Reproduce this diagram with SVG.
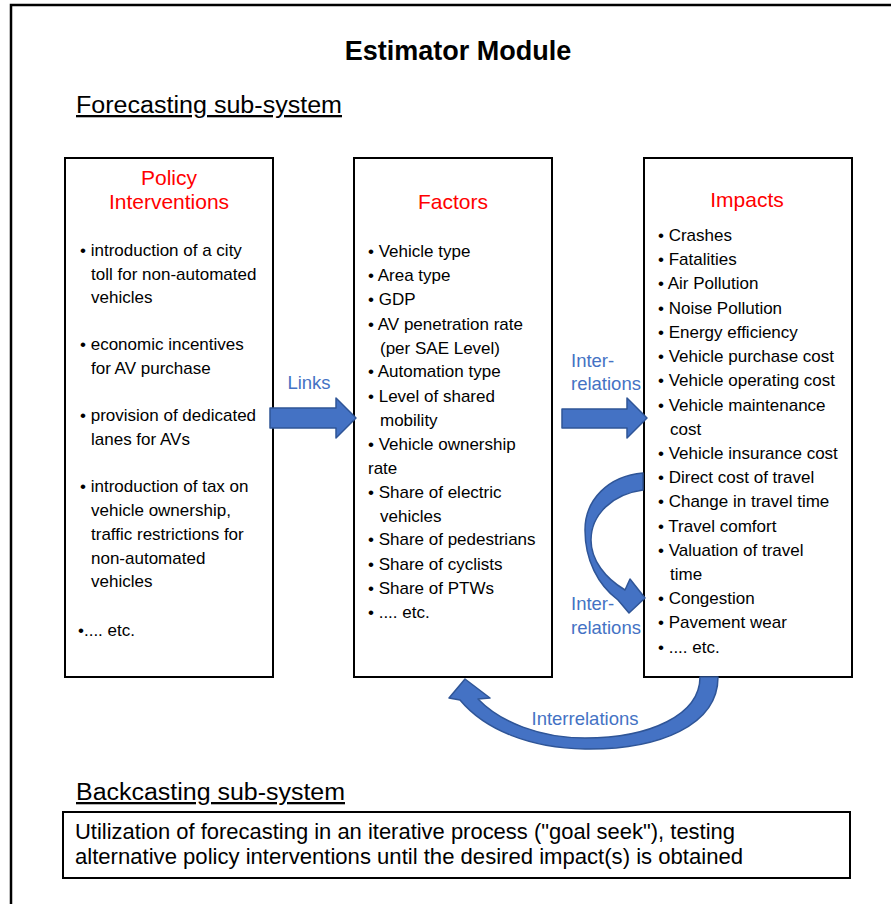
<svg xmlns="http://www.w3.org/2000/svg" width="891" height="904" viewBox="0 0 891 904">
<style>
.box{fill:#fff;stroke:#000;stroke-width:2}
.t{font-family:"Liberation Sans",Arial,sans-serif;font-size:17px;fill:#000}
.h{font-family:"Liberation Sans",Arial,sans-serif;font-size:21px;fill:#ff0000;text-anchor:middle}
.lbl{font-family:"Liberation Sans",Arial,sans-serif;font-size:18.5px;fill:#4472C4}
.arrow{fill:#4472C4;stroke:#2F5597;stroke-width:1.5;stroke-linejoin:round}
</style>
<rect x="0" y="0" width="891" height="904" fill="#fff"/>
<rect x="11" y="5" width="890" height="910" fill="none" stroke="#000" stroke-width="2.5"/>
<text x="458" y="60" font-family="Liberation Sans,Arial,sans-serif" font-size="27" font-weight="bold" text-anchor="middle">Estimator Module</text>
<text x="76" y="113" font-family="Liberation Sans,Arial,sans-serif" font-size="23" text-decoration="underline" textLength="266" lengthAdjust="spacingAndGlyphs">Forecasting sub-system</text>

<g id="policy">
<rect class="box" x="65" y="158" width="208" height="519"/>
<text class="h" x="169" y="185">Policy</text>
<text class="h" x="169" y="209">Interventions</text>
<text class="t" x="80" y="256">• introduction of a city</text>
<text class="t" x="91" y="280">toll for non-automated</text>
<text class="t" x="91" y="303">vehicles</text>
<text class="t" x="80" y="350">• economic incentives</text>
<text class="t" x="91" y="374">for AV purchase</text>
<text class="t" x="80" y="421">• provision of dedicated</text>
<text class="t" x="91" y="445">lanes for AVs</text>
<text class="t" x="80" y="492">• introduction of tax on</text>
<text class="t" x="91" y="516">vehicle ownership,</text>
<text class="t" x="91" y="540">traffic restrictions for</text>
<text class="t" x="91" y="564">non-automated</text>
<text class="t" x="91" y="587">vehicles</text>
<text class="t" x="78" y="636">•.... etc.</text>
</g>

<g id="factors">
<rect class="box" x="354" y="158" width="198" height="519"/>
<text class="h" x="453" y="209">Factors</text>
<text class="t" x="368" y="257">• Vehicle type</text>
<text class="t" x="368" y="281">• Area type</text>
<text class="t" x="368" y="305">• GDP</text>
<text class="t" x="368" y="330">• AV penetration rate</text>
<text class="t" x="380" y="354">(per SAE Level)</text>
<text class="t" x="368" y="377">• Automation type</text>
<text class="t" x="368" y="402">• Level of shared</text>
<text class="t" x="380" y="426">mobility</text>
<text class="t" x="368" y="450">• Vehicle ownership</text>
<text class="t" x="368" y="474">rate</text>
<text class="t" x="368" y="498">• Share of electric</text>
<text class="t" x="380" y="522">vehicles</text>
<text class="t" x="368" y="545">• Share of pedestrians</text>
<text class="t" x="368" y="570">• Share of cyclists</text>
<text class="t" x="368" y="594">• Share of PTWs</text>
<text class="t" x="368" y="618">• .... etc.</text>
</g>

<g id="impacts">
<rect class="box" x="644" y="158" width="208" height="519"/>
<text class="h" x="747" y="207">Impacts</text>
<text class="t" x="658" y="241">• Crashes</text>
<text class="t" x="658" y="265">• Fatalities</text>
<text class="t" x="658" y="289">• Air Pollution</text>
<text class="t" x="658" y="314">• Noise Pollution</text>
<text class="t" x="658" y="338">• Energy efficiency</text>
<text class="t" x="658" y="362">• Vehicle purchase cost</text>
<text class="t" x="658" y="386">• Vehicle operating cost</text>
<text class="t" x="658" y="411">• Vehicle maintenance</text>
<text class="t" x="670" y="435">cost</text>
<text class="t" x="658" y="459">• Vehicle insurance cost</text>
<text class="t" x="658" y="483">• Direct cost of travel</text>
<text class="t" x="658" y="507">• Change in travel time</text>
<text class="t" x="658" y="532">• Travel comfort</text>
<text class="t" x="658" y="556">• Valuation of travel</text>
<text class="t" x="670" y="580">time</text>
<text class="t" x="658" y="604">• Congestion</text>
<text class="t" x="658" y="628">• Pavement wear</text>
<text class="t" x="658" y="653">• .... etc.</text>
</g>

<g id="backcasting">
<text x="76" y="800" font-family="Liberation Sans,Arial,sans-serif" font-size="23" text-decoration="underline" textLength="269" lengthAdjust="spacingAndGlyphs">Backcasting sub-system</text>
<rect class="box" x="63" y="812" width="787" height="66"/>
<text x="75" y="839" font-family="Liberation Sans,Arial,sans-serif" font-size="21.5" textLength="660" lengthAdjust="spacingAndGlyphs">Utilization of forecasting in an iterative process ("goal seek"), testing</text>
<text x="75" y="864" font-family="Liberation Sans,Arial,sans-serif" font-size="21.5" textLength="668" lengthAdjust="spacingAndGlyphs">alternative policy interventions  until the desired impact(s) is obtained</text>
</g>

<g id="connectors">
<path class="arrow" d="M270,408 L336,408 L336,398 L356,418 L336,438 L336,428 L270,428 Z"/>
<text class="lbl" x="309" y="389" text-anchor="middle" font-size="19">Links</text>
<path class="arrow" d="M562,409 L627,409 L627,398 L647,418 L627,438 L627,428 L562,428 Z"/>
<text class="lbl" x="571" y="367">Inter-</text>
<text class="lbl" x="571" y="390">relations</text>
<path class="arrow" d="M643,473 C608,476 585,500 585,530 C585,560 598,585 618,600 L629,613 L645,598 L630,579 L625,590 C605,578 591,560 591,540 C591,515 612,494 643,490 Z"/>
<text class="lbl" x="571" y="610">Inter-</text>
<text class="lbl" x="571" y="634">relations</text>
<path class="arrow" d="M718,677 C718,725 660,750 585,749 C530,748 485,730 460,700 L449,698 L465,679 L490,698 L478,699 C500,722 540,738 585,738 C650,738 700,715 700,677 Z"/>
<text class="lbl" x="585" y="725" text-anchor="middle" font-size="19">Interrelations</text>
</g>
</svg>
